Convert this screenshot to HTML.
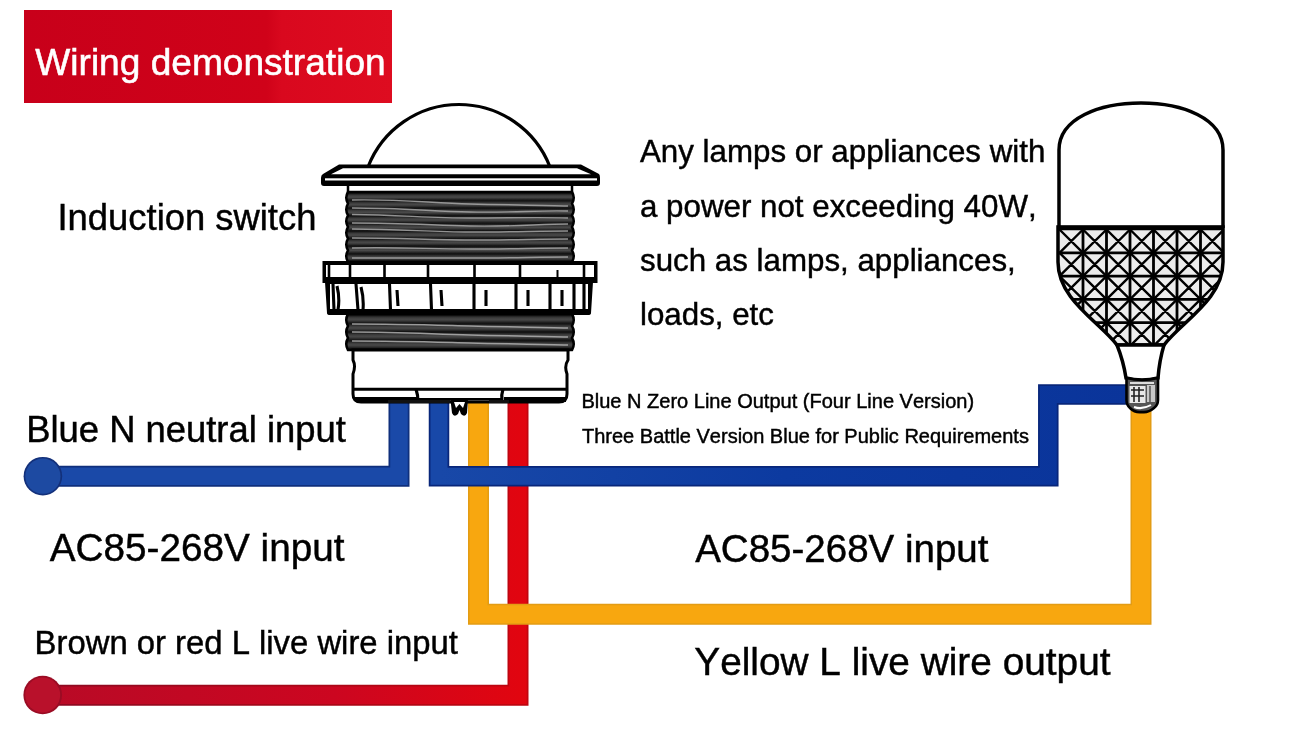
<!DOCTYPE html>
<html><head><meta charset="utf-8">
<style>
html,body{margin:0;padding:0;background:#fff;}
body{width:1300px;height:750px;overflow:hidden;position:relative;}
svg{position:absolute;left:0;top:0;will-change:transform;}
text{font-family:"Liberation Sans",sans-serif;fill:#000;stroke:#000;stroke-width:0.45px;font-kerning:none;}
</style></head><body>
<svg width="1300" height="750" viewBox="0 0 1300 750">
<defs>
<linearGradient id="redbox" x1="0" x2="1" y1="0" y2="0">
<stop offset="0" stop-color="#c8001a"/><stop offset="0.66" stop-color="#d00219"/><stop offset="0.7" stop-color="#d9081e"/><stop offset="1" stop-color="#de0c20"/>
</linearGradient>
<linearGradient id="thr" x1="0" x2="0" y1="0" y2="1">
<stop offset="0" stop-color="#0c0c0c"/><stop offset="0.3" stop-color="#3a3a3a"/><stop offset="0.55" stop-color="#4a4a4a"/><stop offset="0.8" stop-color="#2a2a2a"/><stop offset="1" stop-color="#0c0c0c"/>
</linearGradient>
<pattern id="thrP" patternUnits="userSpaceOnUse" x="0" y="193" width="300" height="7.6">
<rect width="300" height="7.6" fill="url(#thr)"/>
</pattern>
<pattern id="thrP2" patternUnits="userSpaceOnUse" x="0" y="315" width="300" height="8.5">
<rect width="300" height="8.5" fill="url(#thr)"/>
</pattern>
</defs>
<!-- title box -->
<rect x="24" y="10" width="368" height="93" fill="url(#redbox)"/>
<text x="35.3" y="75.2" font-size="37.1" style="fill:#fff;stroke:#fff;stroke-width:0.55px">Wiring demonstration</text>

<!-- texts -->
<text x="57.5" y="229.5" font-size="36.4">Induction switch</text>
<text x="640" y="162.3" font-size="31.3">Any lamps or appliances with</text>
<text x="640" y="216.7" font-size="31.3">a power not exceeding 40W,</text>
<text x="640" y="271" font-size="31.3">such as lamps, appliances,</text>
<text x="640" y="325.3" font-size="31.3">loads, etc</text>
<text x="581.4" y="408" font-size="20.02">Blue N Zero Line Output (Four Line Version)</text>
<text x="582" y="442.6" font-size="20.0">Three Battle Version Blue for Public Requirements</text>
<text x="26.2" y="442" font-size="36.4">Blue N neutral input</text>
<text x="49.8" y="560.8" font-size="38.7">AC85-268V input</text>
<text x="695.2" y="561.5" font-size="38.5">AC85-268V input</text>
<text x="34.6" y="654.3" font-size="32.83">Brown or red L live wire input</text>
<text x="694.3" y="675.2" font-size="38.8">Yellow L live wire output</text>

<!-- wires -->
<defs>
<linearGradient id="redg" gradientUnits="userSpaceOnUse" x1="43" y1="0" x2="530" y2="0">
<stop offset="0" stop-color="#b80a26"/><stop offset="0.6" stop-color="#cc0620"/><stop offset="1" stop-color="#e2050f"/>
</linearGradient>
<linearGradient id="redgd" gradientUnits="userSpaceOnUse" x1="43" y1="0" x2="530" y2="0">
<stop offset="0" stop-color="#8c0a22"/><stop offset="1" stop-color="#c0050f"/>
</linearGradient>
<linearGradient id="blueg" gradientUnits="userSpaceOnUse" x1="440" y1="0" x2="1130" y2="0">
<stop offset="0" stop-color="#1848a8"/><stop offset="0.5" stop-color="#0c3aa0"/><stop offset="1" stop-color="#0a349a"/>
</linearGradient>
</defs>
<g fill="none" stroke-linejoin="miter" stroke-linecap="butt">
<path d="M518,398 V695.3 H43" stroke="url(#redgd)" stroke-width="21"/>
<path d="M518,398 V695.3 H43" stroke="url(#redg)" stroke-width="17.5"/>
<circle cx="42.7" cy="695" r="19.3" fill="#9a0c24" stroke="none"/>
<circle cx="42.7" cy="695" r="17.5" fill="#b9112b" stroke="none"/>
<path d="M478.5,398 V614.2 H1141 V408" stroke="#e39c14" stroke-width="21"/>
<path d="M478.5,398 V614.2 H1141 V408" stroke="#f8a70f" stroke-width="18"/>
<path d="M399,398 V476.2 H43" stroke="#0f2f7c" stroke-width="21"/>
<path d="M399,398 V476.2 H43" stroke="#1a49a8" stroke-width="17.5"/>
<circle cx="42.9" cy="476.2" r="19.3" fill="#13307a" stroke="none"/>
<circle cx="42.9" cy="476.2" r="17.6" fill="#1d4aa2" stroke="none"/>
<path d="M439,398 V476.2 H1048.3 V394.5 H1128" stroke="#08267a" stroke-width="20.5"/>
<path d="M439,398 V476.2 H1048.3 V394.5 H1128" stroke="url(#blueg)" stroke-width="17"/>
</g>

<!-- switch -->
<g id="switch">
<!-- dome -->
<path d="M368,167 A97.5,97.5 0 0 1 550,167" fill="#fff" stroke="#000" stroke-width="3.2"/>
<!-- upper threads -->
<path d="M348,184 V193 M572,184 V193" stroke="#000" stroke-width="2.5"/>
<path d="M348,192 Q344.5,197.8 348,203.7 Q344.5,209.5 348,215.3 Q344.5,221.2 348,227.0 Q344.5,232.8 348,238.7 Q344.5,244.5 348,250.3 Q344.5,256.2 348,262.0 L572,262 Q575.5,256.2 572,250.3 Q575.5,244.5 572,238.7 Q575.5,232.8 572,227.0 Q575.5,221.2 572,215.3 Q575.5,209.5 572,203.7 Q575.5,197.8 572,192.0 Z" fill="url(#thrP)" stroke="#000" stroke-width="2.5"/>
<g stroke="#a8a8a8" stroke-width="1.4" fill="none" opacity="0.85">
<path d="M352,200 C400,199 430,203 470,204 S540,205 568,206"/>
<path d="M352,208 C400,208 430,211 470,212 S540,210 568,211"/>
<path d="M352,214.5 C400,215 430,218 470,218 S540,217 568,218"/>
<path d="M352,223 C400,223 430,225 470,226 S540,224 568,224"/>
<path d="M352,229 C400,229 430,232 470,232 S540,231 568,231"/>
<path d="M352,238 C400,238 430,240 470,240 S540,239 568,239"/>
<path d="M352,248 C400,247 430,249 470,249 S540,248 568,248"/>
<path d="M352,258 C400,258 430,258 470,258 S540,257 568,257"/>
</g>
<!-- top cap -->
<path d="M339,164.5 H581 L599,174 Q600,175 600,178 V183 Q600,186 597,186 H324 Q321,186 321,183 V178 Q321,175 323,174 Z" fill="#000"/>
<path d="M343,168.3 H577 L591,174.2 H331 Z" fill="#fff"/>
<rect x="325" y="178.3" width="272" height="2.2" fill="#fff"/>
<!-- band upper rail -->
<rect x="322.5" y="261" width="275" height="22" fill="#000"/>
<rect x="326" y="265" width="268" height="12" fill="#fff"/>
<!-- band lower rail -->
<path d="M325,282 H593 L591,313 Q591,315 588,315 H330 Q327,315 327,313 Z" fill="#000"/>
<rect x="330" y="284" width="258" height="25" fill="#fff"/>
<g stroke="#000" stroke-width="2.6" fill="none">
<path d="M329,263 V279 M350,263 V279 M384.5,263 V279 M428,263 V279 M474.5,263 V279 M520,263 V279 M584,263 V279"/>
<path d="M557.5,270 V279" stroke-width="2"/>
<path d="M333,284 L334,310 M337,286 Q340,298 338,310 M356,284 L358,310 M361,287 Q364,298 363,310 M389.5,284 L390.5,310 M397,290 L398,306 M430.5,284 L431.5,310 M441,290 L442,306 M474,284 V310 M486,290 V306 M516,284 V310 M528,290 V306 M550,284 V310 M562,290 V306 M574,284 V310 M584,284 V310" stroke-width="3.1"/>
</g>
<!-- lower threads -->
<path d="M348,314 Q344.5,320 348,326 Q344.5,332 348,338 Q344.5,344 348,350 L572,350 Q575.5,344 572,338 Q575.5,332 572,326 Q575.5,320 572,314 Z" fill="url(#thrP2)" stroke="#000" stroke-width="2.5"/>
<g stroke="#b0b0b0" stroke-width="1.5" fill="none" opacity="0.85">
<path d="M352,324 C400,324 430,325 470,326 S540,327 568,328"/>
<path d="M352,332 C400,332 430,334 470,335 S540,336 568,337"/>
<path d="M352,341 C400,341 430,342 470,343 S540,344 568,345"/>
</g>
<!-- lower body -->
<path d="M353,350 H568 V360 Q564,366 567,374 V394 Q567,402 559,402 H361 Q353,402 353,394 V374 Q356,366 353,360 Z" fill="#fff" stroke="#000" stroke-width="3"/>
<path d="M354,389.2 H567" stroke="#000" stroke-width="3"/>
<path d="M355,399.5 H417 M504,399.5 H566" stroke="#000" stroke-width="5"/>
<path d="M418,399.2 H503" stroke="#000" stroke-width="2.6"/>
<path d="M416,389 Q418,395 418,402 M503,389 Q501,395 502,402" stroke="#000" stroke-width="3.2" fill="none"/>
<path d="M388,401.5 H450 M489,401.5 H509" stroke="#111" stroke-width="3"/>
<path d="M450.5,400 L452,413 Q454,418 458,414 L459.5,410 L461,414 Q465,418 467,413 L468,400 Z" fill="#000"/>
<path d="M454,402 L456,408 L459.5,404 L463,408 L465,402 Z" fill="#fff"/>
</g>
<!-- bulb -->
<g id="bulb">
<defs><clipPath id="meshclip"><path d="M1058,227 H1223 V262 C1223,300 1181,322 1164,345 H1117 C1100,322 1058,300 1058,262 Z"/></clipPath></defs>
<path d="M1059,228 V150 C1059,118 1100,103 1141,103 C1182,103 1223,118 1223,150 V228" fill="#fff" stroke="#000" stroke-width="3.5"/>
<g clip-path="url(#meshclip)">
<rect x="1050" y="226" width="182" height="122" fill="#ececec"/>
<path d="M1083.0,226 V350 M1106.5,226 V350 M1130.0,226 V350 M1153.5,226 V350 M1177.0,226 V350 M1200.5,226 V350 M1050,252.8 H1232 M1050,276.1 H1232 M1050,299.4 H1232 M1050,322.7 H1232 M1050,346.0 H1232" stroke="#000" stroke-width="2.8" fill="none"/>
<path d="M1059.5,229.5 L1083.0,252.8 M1083.0,229.5 L1059.5,252.8 M1059.5,252.8 L1083.0,276.1 M1083.0,252.8 L1059.5,276.1 M1059.5,276.1 L1083.0,299.4 M1083.0,276.1 L1059.5,299.4 M1059.5,299.4 L1083.0,322.7 M1083.0,299.4 L1059.5,322.7 M1059.5,322.7 L1083.0,346.0 M1083.0,322.7 L1059.5,346.0 M1083.0,229.5 L1106.5,252.8 M1106.5,229.5 L1083.0,252.8 M1083.0,252.8 L1106.5,276.1 M1106.5,252.8 L1083.0,276.1 M1083.0,276.1 L1106.5,299.4 M1106.5,276.1 L1083.0,299.4 M1083.0,299.4 L1106.5,322.7 M1106.5,299.4 L1083.0,322.7 M1083.0,322.7 L1106.5,346.0 M1106.5,322.7 L1083.0,346.0 M1106.5,229.5 L1130.0,252.8 M1130.0,229.5 L1106.5,252.8 M1106.5,252.8 L1130.0,276.1 M1130.0,252.8 L1106.5,276.1 M1106.5,276.1 L1130.0,299.4 M1130.0,276.1 L1106.5,299.4 M1106.5,299.4 L1130.0,322.7 M1130.0,299.4 L1106.5,322.7 M1106.5,322.7 L1130.0,346.0 M1130.0,322.7 L1106.5,346.0 M1130.0,229.5 L1153.5,252.8 M1153.5,229.5 L1130.0,252.8 M1130.0,252.8 L1153.5,276.1 M1153.5,252.8 L1130.0,276.1 M1130.0,276.1 L1153.5,299.4 M1153.5,276.1 L1130.0,299.4 M1130.0,299.4 L1153.5,322.7 M1153.5,299.4 L1130.0,322.7 M1130.0,322.7 L1153.5,346.0 M1153.5,322.7 L1130.0,346.0 M1153.5,229.5 L1177.0,252.8 M1177.0,229.5 L1153.5,252.8 M1153.5,252.8 L1177.0,276.1 M1177.0,252.8 L1153.5,276.1 M1153.5,276.1 L1177.0,299.4 M1177.0,276.1 L1153.5,299.4 M1153.5,299.4 L1177.0,322.7 M1177.0,299.4 L1153.5,322.7 M1153.5,322.7 L1177.0,346.0 M1177.0,322.7 L1153.5,346.0 M1177.0,229.5 L1200.5,252.8 M1200.5,229.5 L1177.0,252.8 M1177.0,252.8 L1200.5,276.1 M1200.5,252.8 L1177.0,276.1 M1177.0,276.1 L1200.5,299.4 M1200.5,276.1 L1177.0,299.4 M1177.0,299.4 L1200.5,322.7 M1200.5,299.4 L1177.0,322.7 M1177.0,322.7 L1200.5,346.0 M1200.5,322.7 L1177.0,346.0 M1200.5,229.5 L1224.0,252.8 M1224.0,229.5 L1200.5,252.8 M1200.5,252.8 L1224.0,276.1 M1224.0,252.8 L1200.5,276.1 M1200.5,276.1 L1224.0,299.4 M1224.0,276.1 L1200.5,299.4 M1200.5,299.4 L1224.0,322.7 M1224.0,299.4 L1200.5,322.7 M1200.5,322.7 L1224.0,346.0 M1224.0,322.7 L1200.5,346.0" stroke="#000" stroke-width="2.4" fill="none"/>
</g>
<path d="M1058,227 H1223 V262 C1223,300 1181,322 1164,345 H1117 C1100,322 1058,300 1058,262 Z" fill="none" stroke="#000" stroke-width="3.5"/>
<path d="M1057,228 H1224" stroke="#000" stroke-width="4.5"/>
<path d="M1117,345 C1121,355 1124,365 1126,378 Q1142,382 1158,378 C1159,365 1161,355 1164,345 Z" fill="#fff" stroke="#000" stroke-width="3.5"/>
<path d="M1126.5,378 Q1142,382 1158,378 V400 Q1158,405 1154,408 Q1148,413 1142,412 Q1135,413 1130,408 Q1126.5,405 1126.5,400 Z" fill="#555" stroke="#000" stroke-width="2.6"/>
<rect x="1129.5" y="386" width="16" height="17" fill="#e8e8e8"/>
<rect x="1147" y="385" width="8" height="17" fill="#c8c8c8"/>
<path d="M1130,383 H1154" stroke="#eee" stroke-width="1.8"/>
<path d="M1131,390 H1144 M1131,396 H1144 M1134,387 V402 M1139,387 V402" stroke="#222" stroke-width="1.6" fill="none"/>
<path d="M1150,386 V402" stroke="#555" stroke-width="1.5"/>
<path d="M1134,407 Q1142,410 1151,405" stroke="#fff" stroke-width="2" fill="none"/>
</g>
</svg>
</body></html>
